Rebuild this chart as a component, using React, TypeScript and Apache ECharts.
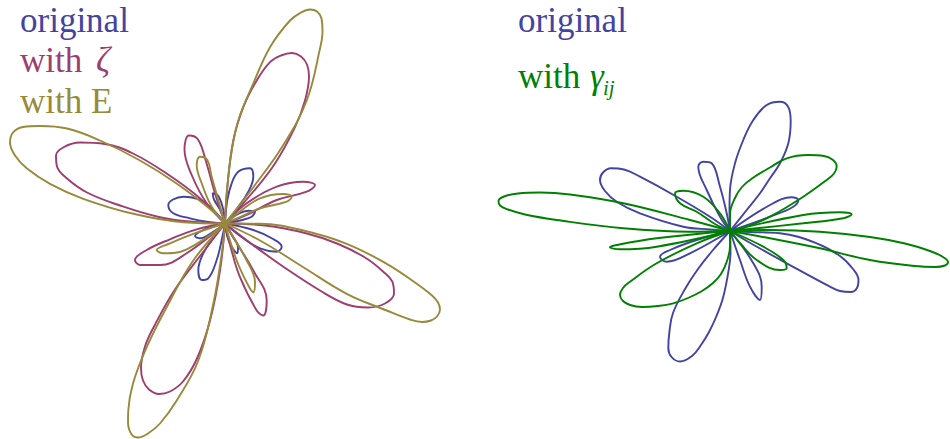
import React, { useEffect, useRef } from "react";
import * as echarts from "echarts";

// Petal outlines, in px-units relative to each plot's centre (y up).
// Each petal: points from the centre outwards along one side, around the tip, and back.
const leftOriginal: number[][][] = [
  [[-18.3, 1.8], [-35, 5.2], [-51.7, 10.2], [-56.7, 18.5], [-52, 24], [-41.7, 26.8], [-25, 23.5], [-11.7, 13.5]],
  [[28.3, -6.5], [46.7, -14.8], [56.7, -23.2], [51.7, -28.2], [35, -24.8], [18.3, -14.8]],
  [[2.3, 23.5], [6.7, 40.2], [13.3, 51.8], [25, 55.2], [28.3, 46.8], [23.3, 31.8], [13.3, 16.8]],
  [[-3.3, -16.5], [-8.3, -36.5], [-16.7, -54.8], [-23.3, -56.5], [-26.7, -46.5], [-21.7, -29.8], [-11.7, -14.8]],
  [[15, 3], [26.7, 6.8], [30, 11.8], [23.3, 12.8], [14, 10]],
  [[-12, -2.5], [-21.7, -6.5], [-30, -12.5], [-25, -14.8], [-13, -9]],
  [[-4, 12], [-11, 24], [-12.3, 30.2], [-7, 28], [-2, 15]],
  [[2, -12], [6, -22], [12.3, -29.8], [13, -24], [7, -12]],
];

const leftZeta: number[][][] = [
  [[2, 33], [8.3, 83], [18.3, 116.3], [31.7, 143], [45, 161.3], [56, 168], [67, 170.5], [76, 167], [82, 159], [84, 147], [80, 123], [70, 96.3], [50, 60], [25, 28]],
  [[-5, -47], [-15, -97], [-28, -135], [-42, -158], [-55, -168], [-66, -170.5], [-76, -166], [-82, -157], [-84, -145], [-80, -123], [-71, -103], [-50, -66], [-23, -30]],
  [[-30, 1.5], [-65, 6.3], [-105, 18], [-138, 31], [-158, 45], [-168, 57], [-169, 68], [-161, 76.5], [-145, 81], [-120, 79.5], [-92, 70], [-58, 49.7], [-26, 26]],
  [[40, -2], [80, -9.5], [112, -20], [140, -34], [158, -48], [168, -60], [169, -70], [160, -80], [143, -84], [122, -81], [95, -67], [58, -43], [26, -20]],
  [[-18.3, 20.2], [-33.3, 48.5], [-40.5, 74], [-36, 88], [-27, 84], [-19, 62], [-10, 30]],
  [[21.7, 8.5], [51.7, 23.5], [81.7, 31.8], [90, 38.5], [78.3, 41.8], [51.7, 36.8], [21.7, 20.2]],
  [[-28.3, -5.8], [-55, -15.8], [-78.3, -26.5], [-90, -36.5], [-85, -41.5], [-65, -41.5], [-38.3, -29.8]],
  [[6, -25], [15, -53.7], [31.7, -87], [38.3, -92], [41.7, -77], [28.3, -47], [12, -20]],
];

const leftE: number[][][] = [
  [[2, 33], [6.7, 73], [14, 105], [26.7, 136.3], [45, 176.3], [65, 203], [76, 211], [85, 214], [92, 212], [96.5, 205], [97.5, 192], [95, 175], [81.7, 123], [58, 78], [28.3, 36.3]],
  [[-3.3, -30.3], [-11.7, -80.3], [-26.7, -137], [-48.3, -177], [-65, -200], [-77, -210], [-87, -214], [-92, -212.5], [-95.5, -207], [-97, -199], [-96.7, -187], [-92, -160], [-78.3, -123.7], [-58.3, -83.7], [-31.7, -37]],
  [[-41.7, 1.3], [-91.7, 9.7], [-141.7, 24.7], [-175, 39.7], [-198, 55], [-210, 68], [-215, 81], [-212, 91], [-202, 96.5], [-185, 97.5], [-158, 95], [-125, 83], [-85, 63], [-48, 39.7], [-12, 12]],
  [[35, -0.3], [78.3, -7], [121.7, -20.3], [161.7, -40.3], [190, -59], [207, -72], [213, -79], [215, -86], [212, -93], [206, -97], [197, -98.5], [185, -96], [161.7, -87], [121.7, -70.3], [78.3, -43.7], [35, -17]],
  [[-13.3, 16.8], [-23.3, 40.2], [-28.3, 58.5], [-25, 66.8], [-17.7, 63.5], [-13.3, 46.8], [-6.7, 23.5]],
  [[15, 6.5], [35, 15.2], [61.7, 21.8], [66.7, 26.8], [58.3, 29.5], [35, 25.2], [15, 12]],
  [[-31.7, -10.3], [-55, -19.8], [-68.3, -26.5], [-61.7, -29.8], [-38.3, -25.8]],
  [[11.7, -37], [23.3, -62], [28.3, -68.7], [30, -58.7], [21.7, -37]],
];

const rightOriginal: number[][][] = [
  [[-0.5, 21], [0, 41], [5, 67.7], [13.3, 91], [23.3, 111], [36.7, 126], [50, 129.3], [58, 124.5], [60.7, 110], [58.3, 87.7], [50, 67.7], [40, 52.7], [30, 37.7], [16.7, 21]],
  [[0.5, -21], [-1.5, -40], [-6.7, -65.7], [-13.5, -85], [-21, -101], [-29, -114], [-38, -125], [-50, -130.5], [-58.5, -126], [-61.7, -117], [-60.5, -100], [-57, -82], [-45, -58], [-32, -38], [-17, -19]],
  [[-20, 1.5], [-46.7, 4.3], [-90, 17.7], [-113, 29], [-125, 40], [-130, 51], [-127, 58.5], [-119, 62.7], [-106, 61.5], [-90, 54.3], [-53.3, 34.3], [-20, 14.3]],
  [[20, -1], [50, -2.3], [86.7, -12.3], [110, -25], [123, -38], [128.5, -49], [127, -57], [121, -61], [110, -60], [100, -55.7], [56.7, -32.3], [22, -13]],
  [[-10, 14.3], [-23.3, 41], [-31.7, 64.3], [-26.7, 69.3], [-18.3, 67.7], [-10, 44.3], [-3.3, 17.7]],
  [[10, -29], [20, -55.7], [30, -69], [31.7, -55.7], [23.3, -32.3]],
  [[40, 14.3], [63.3, 24.3], [68.3, 31], [61.7, 33.7], [40, 26]],
  [[-33.3, -9], [-60, -19], [-70, -25.7], [-63.3, -30.7], [-40, -22.3]],
];

const rightGamma: number[][][] = [
  [[-40, -0.7], [-106.7, 2.7], [-173.3, 11], [-205, 16.5], [-222, 21.5], [-230, 25.5], [-231.5, 30], [-226, 34.5], [-212, 37.5], [-190, 38.5], [-160, 36.5], [-106.7, 27.7], [-40, 11]],
  [[40, 1], [90, -0.7], [140, -6], [175, -12.5], [200, -20], [213, -26], [218, -31], [215, -34.5], [205, -36], [185, -35], [140, -29], [90, -17.3], [40, -7.3]],
  [[16.7, 4.3], [40, 14.3], [73.3, 34.3], [96.7, 51], [104, 57.5], [106.7, 64.5], [103, 71], [94, 75], [78, 76], [56.7, 72.7], [40, 63.5], [22, 52.5], [12, 44], [5, 33], [0, 17]],
  [[-33.3, -12.3], [-73.3, -32.3], [-100, -50.7], [-107, -57], [-110, -64], [-107, -70], [-100, -74], [-88, -76], [-72, -75], [-56.7, -72.3], [-42, -67], [-28, -60], [-17, -52], [-9, -43], [-3, -30], [0, -15]],
  [[73.3, 7.7], [113.3, 12.7], [121.7, 16.7], [110, 18.7], [73.3, 16]],
  [[-73.3, -7.3], [-113.3, -14], [-120, -16.3], [-110, -18.3], [-73.3, -15.7]],
  [[-15, 7], [-33.3, 19.3], [-50, 27.7], [-55, 37.7], [-46.7, 40.3], [-26.7, 34.3], [-10, 17.7]],
  [[33.3, -15.7], [53.3, -29], [56.7, -37.3], [50, -39], [26.7, -29], [10, -12]],
];

const leftLabels = ["original", "with", "ζ", "with E"];
const rightLabels = ["original", "with", "γ", "ij"];

const BLUE = "#4343a1";
const MAGENTA = "#9e3d6f";
const OLIVE = "#978a3b";
const GREEN = "#008000";
const FONT = "Liberation Serif";
const FS = 35;

function petalSeries(petals: number[][][], color: string, axis: number, z: number) {
  return petals.map((p) => ({
    type: "line",
    xAxisIndex: axis,
    yAxisIndex: axis,
    data: [[0, 0], ...p, [0, 0]],
    smooth: 0.4,
    symbol: "none",
    showSymbol: false,
    silent: true,
    clip: false,
    z,
    lineStyle: { color, width: 1.9 },
  }));
}

function title(text: string, x: number, y: number, color: string, style: any = {}) {
  return {
    text,
    left: x,
    top: y,
    padding: 0,
    textStyle: { color, fontFamily: FONT, fontSize: FS, fontWeight: "normal", ...style },
  };
}

export default function App() {
  const ref = useRef<HTMLDivElement>(null);
  useEffect(() => {
    if (!ref.current) return;
    const chart = echarts.init(ref.current, undefined, { renderer: "svg" });
    chart.setOption({
      animation: false,
      backgroundColor: "#ffffff",
      title: [
        title(leftLabels[0], 20, 3, BLUE),
        title(leftLabels[1], 20, 43, MAGENTA),
        title(leftLabels[2], 96, 43, MAGENTA, { fontStyle: "italic" }),
        title(leftLabels[3], 20, 84, OLIVE),
        title(rightLabels[0], 518, 3, BLUE),
        title(rightLabels[1], 518, 59, GREEN),
        title(rightLabels[2], 590, 59, GREEN, { fontStyle: "italic" }),
        title(rightLabels[3], 603, 77, GREEN, { fontStyle: "italic", fontSize: 21 }),
      ],
      grid: [
        { left: 0, top: 0, width: 475, height: 439 },
        { left: 475, top: 0, width: 475, height: 439 },
      ],
      xAxis: [
        { type: "value", gridIndex: 0, min: -225, max: 250, show: false },
        { type: "value", gridIndex: 1, min: -255, max: 220, show: false },
      ],
      yAxis: [
        { type: "value", gridIndex: 0, min: -215.5, max: 223.5, show: false },
        { type: "value", gridIndex: 1, min: -208, max: 231, show: false },
      ],
      series: [
        ...petalSeries(leftOriginal, BLUE, 0, 2),
        ...petalSeries(leftZeta, MAGENTA, 0, 3),
        ...petalSeries(leftE, OLIVE, 0, 4),
        ...petalSeries(rightOriginal, BLUE, 1, 2),
        ...petalSeries(rightGamma, GREEN, 1, 3),
      ],
    });
    return () => chart.dispose();
  }, []);
  return <div ref={ref} style={{ position: "fixed", left: 0, top: 0, width: 950, height: 439 }} />;
}
